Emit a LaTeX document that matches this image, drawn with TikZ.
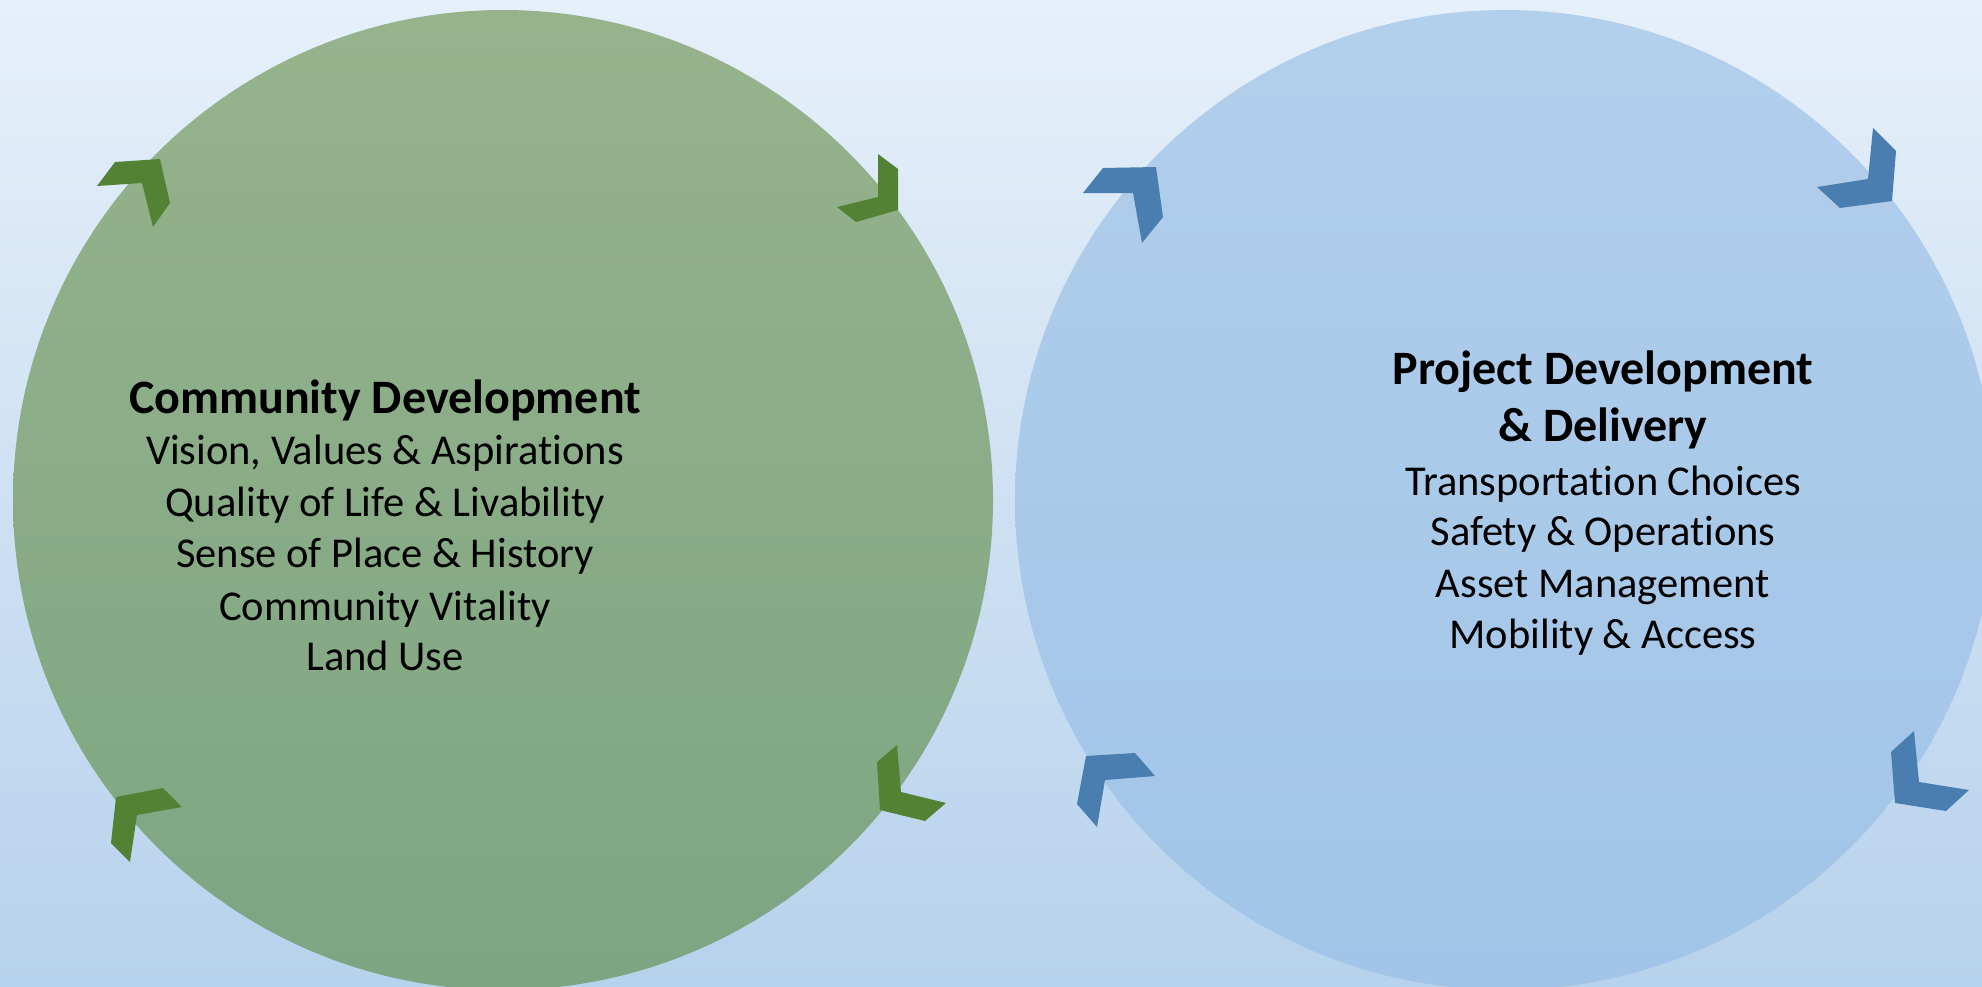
\documentclass[tikz,border=0pt]{standalone}
\usepackage{fontspec}
\setmainfont[Ligatures=NoCommon]{Carlito}
\definecolor{bgtop}{HTML}{E6F0FA}
\definecolor{bgbot}{HTML}{B7D2EC}
\definecolor{gtop}{HTML}{96B38C}
\definecolor{gbot}{HTML}{7DA582}
\definecolor{btop}{HTML}{B2CFEB}
\definecolor{bbot}{HTML}{A1C4E8}
\definecolor{gchev}{HTML}{548235}
\definecolor{bchev}{HTML}{4A7EB0}
\tikzset{
  ttl/.style={anchor=base, font=\fontsize{48}{56}\selectfont\bfseries, inner sep=0pt},
  itm/.style={anchor=base, font=\fontsize{42.5}{50}\selectfont, inner sep=0pt},
}
\begin{document}
\begin{tikzpicture}[x=1pt,y=-1pt]
\useasboundingbox (0,0) rectangle (1982,986);
\clip (0,0) rectangle (1982,986);
\shade[top color=bgtop, bottom color=bgbot] (0,0) rectangle (1982,986);
\shade[top color=gtop, bottom color=gbot] (503,500) circle (490pt);
\shade[top color=btop, bottom color=bbot] (1505,500) circle (490pt);
% green chevrons
\fill[gchev] (97,186) -- (115,162) -- (160,159) -- (170,203) -- (153,227) -- (142,183) -- cycle;
\fill[gchev] (878,154) -- (898,169) -- (898,210) -- (856,222) -- (837,207) -- (878,197) -- cycle;
\fill[gchev] (116,797) -- (163,788) -- (182,807) -- (137,815) -- (130,862) -- (111,843) -- cycle;
\fill[gchev] (877,762) -- (897,745) -- (901,792) -- (946,803) -- (925,821) -- (880,810) -- cycle;
% blue chevrons
\fill[bchev] (1083,193) -- (1103,168) -- (1156,167) -- (1163,217) -- (1142,243) -- (1133,193) -- cycle;
\fill[bchev] (1873,128) -- (1896,151) -- (1892,201) -- (1840,208) -- (1817,187) -- (1868,179) -- cycle;
\fill[bchev] (1086,756) -- (1135,753) -- (1155,776) -- (1105,780) -- (1097,827) -- (1077,804) -- cycle;
\fill[bchev] (1891,752) -- (1914,731) -- (1919,782) -- (1969,790) -- (1946,811) -- (1895,803) -- cycle;
% left text
\node[ttl] (lt) at (385,413) {Community Development};
\node[itm] (l1) at (385,464) {Vision, Values \& Aspirations};
\node[itm] (l2) at (385,516) {Quality of Life \& Livability};
\node[itm] (l3) at (385,567) {Sense of Place \& History};
\node[itm] (l4) at (385,620) {Community Vitality};
\node[itm] (l5) at (385,670) {Land Use};
% right text
\node[ttl] (rt1) at (1603,384) {Project Development};
\node[ttl] (rt2) at (1603,441) {\& Delivery};
\node[itm] (r1) at (1603,495) {Transportation Choices};
\node[itm] (r2) at (1603,545) {Safety \& Operations};
\node[itm] (r3) at (1603,597) {Asset Management};
\node[itm] (r4) at (1603,648) {Mobility \& Access};
\end{tikzpicture}
\end{document}
